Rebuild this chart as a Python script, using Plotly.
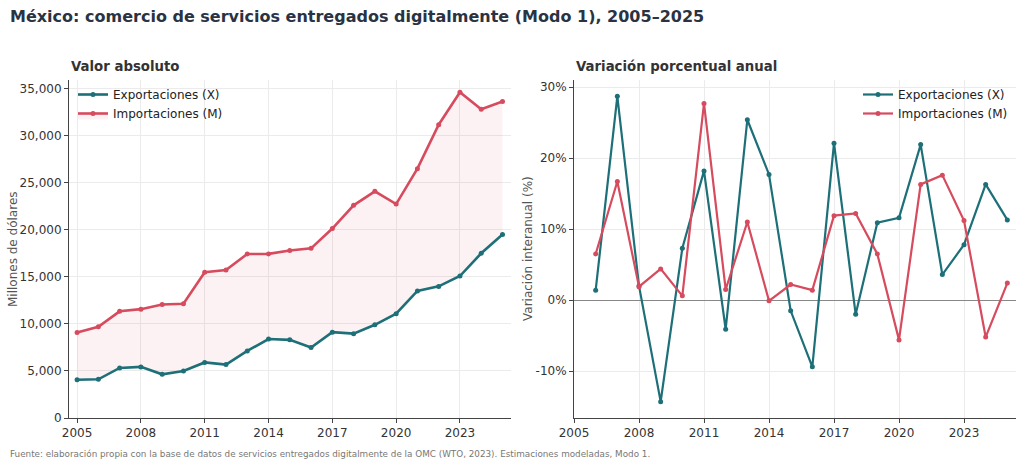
import plotly.graph_objects as go

years = list(range(2005, 2026))
exports = [4060, 4110, 5320, 5430, 4640, 4990, 5900, 5670, 7120, 8390, 8300, 7480, 9120, 8960, 9900, 11080, 13500, 13980, 15080, 17500, 19500]
imports = [9080, 9690, 11330, 11560, 12060, 12140, 15480, 15720, 17420, 17430, 17790, 18020, 20120, 22590, 24080, 22720, 26480, 31150, 34600, 32800, 33620]

pct_years = list(range(2006, 2026))
exports_pct = [1.4, 28.7, 2.0, -14.3, 7.3, 18.2, -4.1, 25.4, 17.7, -1.5, -9.4, 22.1, -2.0, 10.9, 11.6, 21.9, 3.6, 7.8, 16.3, 11.3]
imports_pct = [6.5, 16.7, 1.9, 4.4, 0.6, 27.7, 1.5, 11.0, -0.1, 2.2, 1.4, 11.9, 12.2, 6.5, -5.6, 16.3, 17.6, 11.2, -5.2, 2.4]

year_ticks = [2005, 2008, 2011, 2014, 2017, 2020, 2023]
abs_ticks = [0, 5000, 10000, 15000, 20000, 25000, 30000, 35000]
pct_ticks = [-10, 0, 10, 20, 30]
pct_labels = ["-10%", "0%", "10%", "20%", "30%"]

TEAL = "#1d6f78"
RED = "#d64b5e"
FONT = "DejaVu Sans"

fig = go.Figure()

fig.add_trace(go.Scatter(x=years, y=exports, mode="lines+markers", name="Exportaciones (X)",
                         line=dict(color=TEAL, width=2.6), marker=dict(size=5, color=TEAL),
                         xaxis="x", yaxis="y", legend="legend"))
fig.add_trace(go.Scatter(x=years, y=imports, mode="lines+markers", name="Importaciones (M)",
                         line=dict(color=RED, width=2.6), marker=dict(size=5, color=RED),
                         fill="tonexty", fillcolor="rgba(214,75,94,0.07)",
                         xaxis="x", yaxis="y", legend="legend"))

fig.add_trace(go.Scatter(x=pct_years, y=exports_pct, mode="lines+markers", name="Exportaciones (X)",
                         line=dict(color=TEAL, width=2.2), marker=dict(size=5, color=TEAL),
                         xaxis="x2", yaxis="y2", legend="legend2"))
fig.add_trace(go.Scatter(x=pct_years, y=imports_pct, mode="lines+markers", name="Importaciones (M)",
                         line=dict(color=RED, width=2.2), marker=dict(size=5, color=RED),
                         xaxis="x2", yaxis="y2", legend="legend2"))

ydom = [1 - 418 / 467, 1 - 80 / 467]
axis_common = dict(showline=True, linecolor="#444", linewidth=1, ticks="outside", ticklen=4,
                   tickcolor="#444", tickfont=dict(family=FONT, size=12, color="#333"),
                   showgrid=True, gridcolor="#ebebeb", gridwidth=1, zeroline=False, automargin=False)

ymid = 1 - 249 / 467

fig.update_layout(
    width=1024, height=467,
    margin=dict(l=0, r=0, t=0, b=0),
    paper_bgcolor="white", plot_bgcolor="white",
    font=dict(family=FONT, color="#333"),
    xaxis=dict(domain=[69 / 1024, 511 / 1024], range=[2004.62, 2025.4], tickvals=year_ticks,
               anchor="y", **axis_common),
    yaxis=dict(domain=ydom, range=[0, 35900], tickvals=abs_ticks, tickformat=",", anchor="x",
               **axis_common),
    xaxis2=dict(domain=[574 / 1024, 1016 / 1024], range=[2005, 2025.4], tickvals=year_ticks,
                anchor="y2", **axis_common),
    yaxis2=dict(domain=ydom, range=[-16.6, 31], tickvals=pct_ticks, ticktext=pct_labels, anchor="x2",
                **axis_common),
    legend=dict(x=73 / 1024, y=1 - 80 / 467, xanchor="left", yanchor="top", bgcolor="rgba(255,255,255,0)",
                font=dict(family=FONT, size=12, color="#222"), tracegroupgap=0, itemwidth=30,
                traceorder="normal"),
    legend2=dict(x=1013 / 1024, y=1 - 80 / 467, xanchor="right", yanchor="top", bgcolor="rgba(255,255,255,0)",
                 font=dict(family=FONT, size=12, color="#222"), tracegroupgap=0, itemwidth=30,
                 traceorder="normal"),
    annotations=[
        dict(text="<b>México: comercio de servicios entregados digitalmente (Modo 1), 2005–2025</b>",
             xref="paper", yref="paper", x=8 / 1024, y=1 - 16 / 467, xanchor="left", yanchor="middle",
             showarrow=False, font=dict(family=FONT, size=16, color="#2a3342")),
        dict(text="<b>Valor absoluto</b>", xref="paper", yref="paper", x=69 / 1024, y=1 - 67 / 467,
             xanchor="left", yanchor="middle", showarrow=False, font=dict(family=FONT, size=13.3, color="#333")),
        dict(text="<b>Variación porcentual anual</b>", xref="paper", yref="paper", x=574 / 1024, y=1 - 67 / 467,
             xanchor="left", yanchor="middle", showarrow=False, font=dict(family=FONT, size=13.3, color="#333")),
        dict(text="Millones de dólares", xref="paper", yref="paper", x=13 / 1024, y=ymid, textangle=-90,
             xanchor="center", yanchor="middle", showarrow=False, font=dict(family=FONT, size=12, color="#555")),
        dict(text="Variación interanual (%)", xref="paper", yref="paper", x=528 / 1024, y=ymid, textangle=-90,
             xanchor="center", yanchor="middle", showarrow=False, font=dict(family=FONT, size=12, color="#555")),
        dict(text="Fuente: elaboración propia con la base de datos de servicios entregados digitalmente de la OMC (WTO, 2023). Estimaciones modeladas, Modo 1.",
             xref="paper", yref="paper", x=8 / 1024, y=1 - 454 / 467, xanchor="left", yanchor="middle",
             showarrow=False, font=dict(family=FONT, size=8.8, color="#777")),
    ],
)
fig.update_yaxes(zeroline=True, zerolinecolor="#888", zerolinewidth=1, selector=dict(anchor="x2"))

fig.write_html("out.html")
